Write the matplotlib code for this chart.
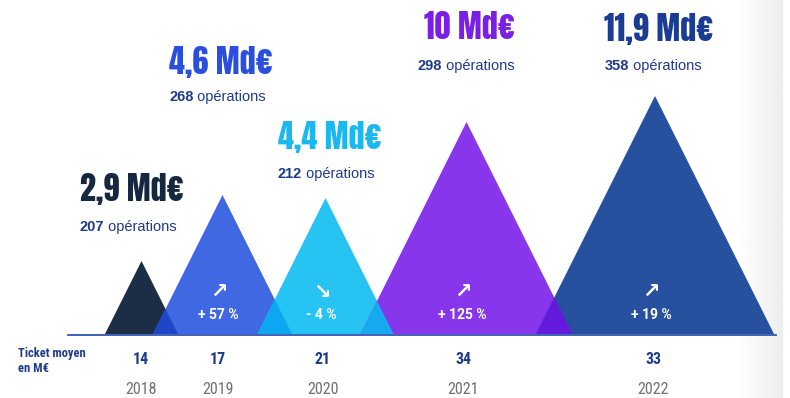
import numpy as np
import matplotlib
matplotlib.use("Agg")
import matplotlib.pyplot as plt
from matplotlib import font_manager

# ==================== 数据 ====================
years = ["2018", "2019", "2020", "2021", "2022"]
amounts = ["2,9 Md€", "4,6 Md€", "4,4 Md€", "10 Md€", "11,9 Md€"]
operations = ["207", "268", "212", "298", "358"]
changes = [None, "+ 57 %", "- 4 %", "+ 125 %", "+ 19 %"]
arrows = [None, "↗", "↘", "↗", "↗"]
ticket = ["14", "17", "21", "34", "33"]
mountain_height = [73, 139, 136, 212, 238]

# ==================== 布局 / 样式 ====================
centers = [141.5, 222.5, 325.5, 466.5, 655]
label_x = [80, 169, 278, 424, 604]
ops_x = [80, 169, 278, 418, 605]
label_y = [187, 60, 135, 25, 27]
ops_y = [227, 97, 174, 66, 66]
tick_x = [141, 218, 323, 463, 653]

fill_colors = ["#1B2E46", "#4068E2", "#27C3F3", "#8736EB", "#27509F"]
overlap_colors = ["#1F45C9", "#0BA7F0", "#17A8F0", "#6419DC"]
label_colors = ["#152840", "#2A4FE0", "#1BB8F0", "#7B1FE6", "#1B3C93"]
NAVY = "#1F3A8A"
BASE = 334


def pick_font(names):
    avail = {f.name for f in font_manager.fontManager.ttflist}
    for n in names:
        if n in avail:
            return n
    return "DejaVu Sans"


BIG = pick_font(["Anton", "Fjalla One", "Oswald", "DejaVu Sans"])
COND = pick_font(["Roboto Condensed", "Barlow Condensed", "DejaVu Sans"])
SANS = pick_font(["Liberation Sans", "Arial", "DejaVu Sans"])
PCT = pick_font(["Roboto", "Liberation Sans", "DejaVu Sans"])

fig = plt.figure(figsize=(7.9, 3.98), dpi=100)
ax = fig.add_axes([0, 0, 1, 1])
ax.set_xlim(0, 790)
ax.set_ylim(398, 0)
ax.axis("off")

# --- 右侧灰色阴影 ---
grad = np.linspace(1.0, 0.93, 64).reshape(1, -1)
ax.imshow(grad, extent=(737, 783, 398, 0), cmap="gray", vmin=0, vmax=1,
          aspect="auto", zorder=0)

# --- 山峰 ---
half = [h / 2.0 for h in mountain_height]
for c, h, w, col in zip(centers, mountain_height, half, fill_colors):
    ax.fill([c - w, c, c + w], [BASE, BASE - h, BASE], color=col, lw=0, zorder=2)

# 相邻山峰的重叠部分
for i in range(len(centers) - 1):
    cl, wl = centers[i], half[i]
    cr, wr = centers[i + 1], half[i + 1]
    yy = (cl + wl) - (cr - wr)
    if yy <= 0:
        continue
    xx = cr - wr + 0.5 * yy
    ax.fill([cr - wr, xx, cl + wl], [BASE, BASE - yy, BASE],
            color=overlap_colors[i], lw=0, zorder=3)

ax.plot([68, 776], [BASE + 0.5, BASE + 0.5], color="#2F55B0", lw=1.3, zorder=4)

# --- 文字 ---
for i in range(len(years)):
    ax.text(label_x[i], label_y[i], amounts[i], family=BIG,
            fontsize=23, color=label_colors[i], ha="left", va="center_baseline")
    t = ax.text(ops_x[i], ops_y[i], operations[i], family=SANS, weight="bold",
                fontsize=10.5, color=NAVY, ha="left", va="center")
    ax.annotate(" opérations", xy=(1, 0), xycoords=t, family=SANS,
                fontsize=10.5, color=NAVY, ha="left", va="bottom")
    if changes[i]:
        ax.text(centers[i] - 4, 292, arrows[i], family=["DejaVu Sans"],
                weight="bold", fontsize=15, color="white", ha="center",
                va="center", zorder=5)
        ax.text(centers[i] - 4, 315, changes[i], family=PCT, weight="bold",
                fontsize=10, color="white", ha="center", va="center", zorder=5)
    ax.text(tick_x[i], 360, ticket[i], family=COND, weight="bold",
            fontsize=11.5, color=NAVY, ha="center", va="center")
    ax.text(tick_x[i], 390, years[i], family=COND, fontsize=11.5,
            color="#707070", ha="center", va="center")

ax.text(18, 353, "Ticket moyen", family=COND, weight="bold", fontsize=9,
        color=NAVY, ha="left", va="center")
ax.text(18, 368, "en M€", family=COND, weight="bold", fontsize=9,
        color=NAVY, ha="left", va="center")

fig.savefig("out.png", dpi=100)
